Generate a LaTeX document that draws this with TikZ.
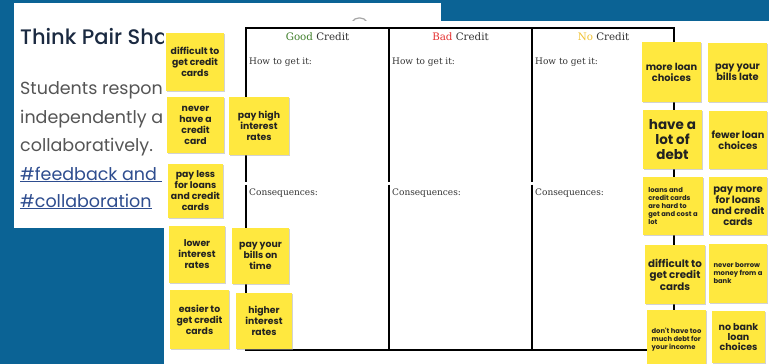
\documentclass[tikz,border=0pt]{standalone}
\usepackage{fontspec}
\setmainfont{DejaVu Serif}
\newfontfamily\notefont{Poppins}
\newfontfamily\titlefont{Poppins Medium}
\usetikzlibrary{shadows}
\definecolor{bgblue}{HTML}{0B6395}
\definecolor{noteyellow}{HTML}{FFE83F}
\definecolor{notetext}{HTML}{222222}
\definecolor{celltext}{HTML}{333333}
\definecolor{goodgreen}{HTML}{3F7F2A}
\definecolor{badred}{HTML}{E53030}
\definecolor{nogold}{HTML}{F1C232}
\definecolor{titlenavy}{HTML}{1B2A41}
\definecolor{bodygray}{HTML}{555555}
\definecolor{linkblue}{HTML}{2E4D8F}

\begin{document}
\begin{tikzpicture}[x=1pt,y=-1pt]
    \tikzstyle{note}=[rectangle,fill=noteyellow,text=notetext,align=center,inner sep=0pt,minimum width=58,minimum height=58,font=\notefont\bfseries\fontsize{9.3}{11}\selectfont,drop shadow={shadow xshift=.7pt,shadow yshift=-1.2pt,fill=black!35}]
    \tikzstyle{tiny}=[align=left,font=\notefont\bfseries\fontsize{6.8}{8}\selectfont]
    \tikzstyle{head}=[inner sep=0pt,font=\fontsize{10.3}{12}\selectfont,text=celltext]
    \tikzstyle{cell}=[anchor=west,inner sep=0pt,font=\fontsize{9}{10}\selectfont,text=celltext]
    \tikzstyle{line}=[anchor=base west,inner sep=0pt,text=bodygray,font=\notefont\fontsize{17.5}{20}\selectfont]
    \tikzstyle{rule}=[line width=1.6pt,black]
    \useasboundingbox (0,0) rectangle (769,364);
    \fill[bgblue] (0,0) rectangle (769,364);
    % slide text behind the worksheet
    \fill[white] (14,3) rectangle (441,228);
    \node[anchor=base west,inner sep=0pt,text=titlenavy,font=\titlefont\fontsize{21}{24}\selectfont] (title) at (20,45) {Think Pair Sha};
    \node[line] (lineA) at (20,94) {Students respon};
    \node[line] (lineB) at (20,123) {independently a};
    \node[line] (lineC) at (20,151) {collaboratively.};
    \node[line,text=linkblue] (lineD) at (20,180) {\underline{\#feedback and~}};
    \node[line,text=linkblue] (lineE) at (20,207) {\underline{\#collaboration}};
    \draw[black!35,line width=1.2pt] (352,22) .. controls (355,16.5) and (364,16.5) .. (367,22);
    % worksheet
    \fill[white] (164,21) rectangle (769,364);
    \draw[rule] (246,181.5) -- (246,28) -- (674,28) -- (674,181.5);
    \draw[rule] (246,184.5) -- (246,350) -- (674,350) -- (674,184.5);
    \draw[rule] (389,28) -- (389,181.5);
    \draw[rule] (389,184.5) -- (389,350);
    \draw[rule] (532,28) -- (532,181.5);
    \draw[rule] (532,184.5) -- (532,350);
    \node[head] (good) at (317.5,37) {\textcolor{goodgreen}{Good} Credit};
    \node[head] (bad) at (460.5,37) {\textcolor{badred}{Bad} Credit};
    \node[head] (none) at (603.5,37) {\textcolor{nogold}{No} Credit};
    \node[cell] (getGood) at (249,62) {How to get it:};
    \node[cell] (getBad) at (392,62) {How to get it:};
    \node[cell] (getNone) at (535,62) {How to get it:};
    \node[cell] (conGood) at (249,193) {Consequences:};
    \node[cell] (conBad) at (392,193) {Consequences:};
    \node[cell] (conNone) at (535,193) {Consequences:};
    % sticky notes, left
    \node[note] (hardCards) at (195,62) {difficult to\\get credit\\cards};
    \node[note,minimum width=57,minimum height=56] (neverCard) at (195.5,125) {never\\have a\\credit\\card};
    \node[note,minimum width=60] (highRates) at (259,126) {pay high\\interest\\rates};
    \node[note,minimum width=55,minimum height=54] (payLess) at (195.5,191) {pay less\\for loans\\and credit\\cards};
    \node[note,minimum width=56,minimum height=57] (lowerRates) at (197,254.5) {lower\\interest\\rates};
    \node[note,minimum width=57,minimum height=56] (onTime) at (260.5,256) {pay your\\bills on\\time};
    \node[note,minimum width=59,minimum height=59] (easyCards) at (199.5,319.5) {easier to\\get credit\\cards};
    \node[note,minimum width=56,minimum height=56] (higherRates) at (264,321) {higher\\interest\\rates};
    % sticky notes, right
    \node[note,minimum width=59,minimum height=60,font=\notefont\bfseries\fontsize{9.8}{11}\selectfont] (moreLoans) at (671.5,72) {more loan\\choices};
    \node[note,minimum width=59,minimum height=59,font=\notefont\bfseries\fontsize{9.8}{11}\selectfont] (billsLate) at (737.5,72.5) {pay your\\bills late};
    \node[note,minimum width=59,minimum height=59,font=\notefont\bfseries\fontsize{13.5}{15}\selectfont] (debt) at (672.5,139.5) {have a\\lot of\\debt};
    \node[note,font=\notefont\bfseries\fontsize{9.8}{11}\selectfont] (fewerLoans) at (738,140) {fewer loan\\choices};
    \node[note,tiny,minimum width=60] (costLot) at (673,206) {loans and\\credit cards\\are hard to\\get and cost a\\lot};
    \node[note,font=\notefont\bfseries\fontsize{10}{11}\selectfont] (payMore) at (738,206) {pay more\\for loans\\and credit\\cards};
    \node[note,minimum width=60,minimum height=59,font=\notefont\bfseries\fontsize{10.3}{11.5}\selectfont] (hardCardsB) at (675,274.5) {difficult to\\get credit\\cards};
    \node[note,tiny,minimum height=59] (neverBorrow) at (738,273.5) {never borrow\\money from a\\bank};
    \node[note,tiny,minimum width=59,minimum height=60] (notMuchDebt) at (676.5,340) {don't have too\\much debt for\\your income};
    \node[note,minimum width=53,minimum height=52,font=\notefont\bfseries\fontsize{9.5}{10}\selectfont] (noBank) at (738.5,337) {no bank\\loan\\choices};
\end{tikzpicture}
\end{document}
